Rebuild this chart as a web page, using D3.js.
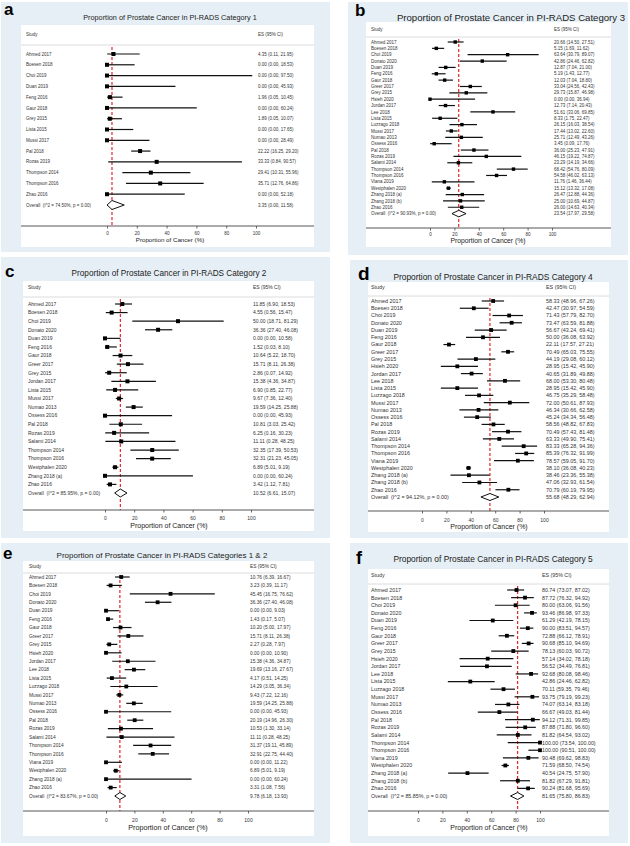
<!DOCTYPE html>
<html><head><meta charset="utf-8">
<script src="https://cdn.jsdelivr.net/npm/d3@7"></script>
<style>
html,body{margin:0;padding:0;background:#fff;}
svg{display:block;}
text{font-family:"Liberation Sans",Arial,sans-serif;white-space:pre;}
</style>
</head><body>
<svg id="chart" width="630" height="846"></svg>
<script>
// ---------- DATA ----------
const xTicks = [0, 20, 40, 60, 80, 100];
const headStudy = "Study";
const headES = "ES (95% CI)";
const xTitle = "Proportion of Cancer (%)";

// Panel a: PI-RADS 1
const titleA = "Proportion of Prostate Cancer in PI-RADS Category 1";
const studiesA = ["Ahmed 2017","Boesen 2018","Choi 2019","Duan 2019","Feng 2016","Gaur 2018","Grey 2015","Lista 2015","Mussi 2017","Pal 2018","Rozas 2019","Thompson 2014","Thompson 2016","Zhao 2016"];
const esA = [4.35,0,0,0,1.96,0,1.89,0,0,22.22,33.33,29.41,35.71,0];
const loA = [0.11,0,0,0,0.05,0,0.05,0,0,16.25,0.84,10.31,12.76,0];
const hiA = [21.95,18.53,97.50,45.93,10.45,60.24,10.07,17.65,28.49,29.20,90.57,55.96,64.86,52.18];
const overallA = [3.35, 0.00, 11.58];
const i2A = "74.50%";

// Panel b: PI-RADS 3
const titleB = "Proportion of Prostate Cancer in PI-RADS Category 3";
const studiesB = ["Ahmed 2017","Boesen 2018","Choi 2019","Donato 2020","Duan 2019","Feng 2016","Gaur 2018","Greer 2017","Grey 2015","Hsieh 2020","Jordan 2017","Lee 2018","Lista 2015","Luzzago 2018","Mussi 2017","Numao 2013","Ossess 2016","Pal 2018","Rozas 2019","Salami 2014","Thompson 2014","Thompson 2016","Viana 2019","Westphalen 2020","Zhang 2018 (a)","Zhang 2018 (b)","Zhao 2016"];
const esB = [20.66,5.15,63.64,42.86,12.87,5.19,12.03,33.04,29.73,0,12.73,51.61,8.33,26.15,17.44,25.71,3.45,36.00,46.15,23.29,68.42,54.58,11.76,15.12,26.47,25.00,26.00];
const loB = [14.50,1.69,30.79,24.46,7.04,1.43,7.04,24.56,15.87,0,7.14,33.06,1.75,16.03,13.02,12.49,0.09,25.23,19.22,14.19,54.76,46.02,1.46,13.32,12.88,10.69,14.63];
const hiB = [27.51,11.62,89.07,62.82,21.00,12.77,18.80,42.43,46.98,36.94,20.43,69.85,22.47,38.54,22.60,43.26,17.76,47.91,74.87,34.66,80.09,63.13,36.44,17.08,44.36,44.87,40.34];
const overallB = [23.54, 17.97, 29.58];
const i2B = "90.93%";

// Panel c: PI-RADS 2
const titleC = "Proportion of Prostate Cancer in PI-RADS Category 2";
const studiesC = ["Ahmed 2017","Boesen 2018","Choi 2019","Donato 2020","Duan 2019","Feng 2016","Gaur 2018","Greer 2017","Grey 2015","Jordan 2017","Lista 2015","Mussi 2017","Numao 2013","Ossess 2016","Pal 2018","Rozas 2019","Salami 2014","Thompson 2014","Thompson 2016","Westphalen 2020","Zhang 2018 (a)","Zhao 2016"];
const esC = [11.85,4.55,50.00,36.36,0,1.52,10.64,15.71,2.86,15.38,6.90,9.67,19.59,0,10.81,6.25,11.11,32.35,32.31,6.89,0,3.42];
const loC = [6.90,0.56,18.71,27.40,0,0.03,5.22,8.11,0.07,4.36,0.85,7.36,14.25,0,3.03,0.16,0.28,17.39,21.23,5.01,0,1.12];
const hiC = [18.53,15.47,81.29,46.08,10.58,8.10,18.70,26.38,14.92,34.87,22.77,12.40,25.88,45.93,25.42,30.23,48.25,50.53,45.05,9.19,60.24,7.81];
const overallC = [10.52, 6.61, 15.07];
const i2C = "85.95%";

// Panel d: PI-RADS 4
const titleD = "Proportion of Prostate Cancer in PI-RADS Category 4";
const studiesD = ["Ahmed 2017","Boesen 2018","Choi 2019","Donato 2020","Duan 2019","Feng 2016","Gaur 2018","Greer 2017","Grey 2015","Hsieh 2020","Jordan 2017","Lee 2018","Lista 2015","Luzzago 2018","Mussi 2017","Numao 2013","Ossess 2016","Pal 2018","Rozas 2019","Salami 2014","Thompson 2014","Thompson 2016","Viana 2019","Westphalen 2020","Zhang 2018 (a)","Zhang 2018 (b)","Zhao 2016"];
const esD = [58.33,42.47,71.43,73.47,56.67,50.00,22.11,70.49,44.19,28.95,40.65,68.00,28.95,46.75,72.00,46.34,45.24,58.56,70.49,63.33,83.33,85.39,78.57,38.10,38.46,47.06,70.79];
const loD = [48.96,30.97,57.79,63.59,43.24,36.08,17.57,65.03,29.08,15.42,31.89,53.30,15.42,35.29,50.61,30.66,34.34,48.82,57.43,49.90,65.28,76.32,59.05,36.08,23.36,32.93,60.19];
const hiD = [67.26,54.59,82.70,81.88,69.41,63.92,27.21,75.55,60.12,45.90,49.88,80.48,45.90,58.48,87.93,62.58,56.48,67.83,81.48,75.41,94.36,91.99,91.70,40.23,55.38,61.54,79.95];
const overallD = [55.68, 48.29, 62.94];
const i2D = "94.12%";

// Panel e: PI-RADS 1 & 2
const titleE = "Proportion of Prostate Cancer in PI-RADS Categories 1 & 2";
const studiesE = ["Ahmed 2017","Boesen 2018","Choi 2019","Donato 2020","Duan 2019","Feng 2016","Gaur 2018","Greer 2017","Grey 2015","Hsieh 2020","Jordan 2017","Lee 2018","Lista 2015","Luzzago 2018","Mussi 2017","Numao 2013","Ossess 2016","Pal 2018","Rozas 2019","Salami 2014","Thompson 2014","Thompson 2016","Viana 2019","Westphalen 2020","Zhang 2018 (a)","Zhao 2016"];
const esE = [10.76,3.23,45.45,36.36,0,1.43,10.20,15.71,2.27,0,15.38,19.69,4.17,14.29,9.43,19.59,0,20.19,10.53,11.11,31.37,32.91,0,6.89,0,3.31];
const loE = [6.39,0.39,16.75,27.40,0,0.17,5.00,8.11,0.28,0,4.36,13.16,0.51,3.05,7.22,14.25,0,14.96,1.30,0.28,19.11,22.75,0,5.01,0,1.08];
const hiE = [16.67,11.17,76.62,46.08,9.03,5.07,17.97,26.38,7.97,10.90,34.87,27.67,14.25,36.34,12.16,25.88,45.93,26.30,33.14,48.25,45.89,44.40,11.22,9.19,60.24,7.56];
const overallE = [9.78, 6.18, 13.93];
const i2E = "83.67%";

// Panel f: PI-RADS 5
const titleF = "Proportion of Prostate Cancer in PI-RADS Category 5";
const studiesF = ["Ahmed 2017","Boesen 2018","Choi 2019","Donato 2020","Duan 2019","Feng 2016","Gaur 2018","Greer 2017","Grey 2015","Hsieh 2020","Jordan 2017","Lee 2018","Lista 2015","Luzzago 2018","Mussi 2017","Numao 2013","Ossess 2016","Pal 2018","Rozas 2019","Salami 2014","Thompson 2014","Thompson 2016","Viana 2019","Westphalen 2020","Zhang 2018 (a)","Zhang 2018 (b)","Zhao 2016"];
const esF = [80.74,87.72,80.00,93.46,61.29,90.00,72.88,90.68,78.13,57.14,56.52,92.68,42.86,70.11,93.75,74.07,66.67,94.12,87.88,81.82,100,100,90.48,71.59,40.54,81.82,90.24];
const loF = [73.07,76.32,63.06,86.98,42.19,83.51,66.12,85.10,60.03,34.02,34.49,80.08,24.46,59.35,79.19,63.14,49.03,71.31,71.80,64.54,73.54,90.51,69.62,68.50,24.75,67.29,81.68];
const hiF = [87.02,94.92,91.56,97.33,78.15,94.57,78.91,94.69,90.72,78.18,76.81,98.46,62.82,79.46,99.23,83.18,81.44,99.85,96.60,93.02,100,100,98.83,74.54,57.90,91.81,95.69];
const overallF = [81.65, 75.80, 86.83];
const i2F = "85.85%";

// ---------- LAYOUT ----------
const layoutA = {letter:"a", letterX:4, letterY:15, letterSize:17, box:[1,2,330,252], white:[21,25,314,247], titleX:170, titleY:20, titleSize:7.3, headY:34, sepY:45, firstY:54, lastY:205, axisY:226, x0:107, x100:256, labelX:26, fs:4.5, tickFs:4.5, tickPad:3, xtitleX:170, xtitleY:241.5, xtitleSize:6.2, marker:4, diamondH:9};
const layoutB = {letter:"b", letterX:355, letterY:16, letterSize:17, box:[348,2,628,255], white:[366,22,611,247], titleX:511, titleY:21, titleSize:9.6, headY:29, sepY:37, firstY:42, lastY:213.6, axisY:228, x0:430, x100:552, labelX:371, fs:4.5, tickFs:4.6, tickPad:2.5, xtitleX:488, xtitleY:242.5, xtitleSize:6.8, marker:3.4, diamondH:6.5};
const layoutC = {letter:"c", letterX:5, letterY:277, letterSize:17, box:[1,257,330,538], white:[23,281,314,531], titleX:169, titleY:276, titleSize:8.2, headY:287, sepY:297, firstY:304, lastY:493, axisY:510, x0:105, x100:251, labelX:28, fs:5, tickFs:5, tickPad:4, xtitleX:169, xtitleY:528, xtitleSize:7, marker:4, diamondH:8};
const layoutD = {letter:"d", letterX:358, letterY:280, letterSize:19, box:[350,260,628,538], white:[368,282,609,532], titleX:493, titleY:280, titleSize:8.4, headY:287, sepY:296, firstY:301, lastY:497, axisY:511, x0:422, x100:544, labelX:371, fs:5.4, tickFs:5, tickPad:4.5, xtitleX:489, xtitleY:529, xtitleSize:7, marker:3.8, diamondH:7};
const layoutE = {letter:"e", letterX:3, letterY:559, letterSize:17, box:[1,543,330,843], white:[23,561,314,836], titleX:162, titleY:558, titleSize:8, headY:566, sepY:573, firstY:577, lastY:796, axisY:811, x0:106, x100:248, labelX:29, fs:4.8, tickFs:5, tickPad:4.5, xtitleX:168, xtitleY:830, xtitleSize:7.2, marker:3.8, diamondH:7};
const layoutF = {letter:"f", letterX:356, letterY:564, letterSize:18, box:[350,543,628,843], white:[368,569,609,836], titleX:493, titleY:562, titleSize:8.4, headY:575, sepY:584, firstY:590, lastY:796, axisY:811, x0:418, x100:540, labelX:371, fs:5.3, tickFs:5, tickPad:4.5, xtitleX:489, xtitleY:830, xtitleSize:7, marker:3.8, diamondH:7};

const panels = [
  {title:titleA, studies:studiesA, es:esA, lo:loA, hi:hiA, overall:overallA, i2:i2A, L:layoutA},
  {title:titleB, studies:studiesB, es:esB, lo:loB, hi:hiB, overall:overallB, i2:i2B, L:layoutB},
  {title:titleC, studies:studiesC, es:esC, lo:loC, hi:hiC, overall:overallC, i2:i2C, L:layoutC},
  {title:titleD, studies:studiesD, es:esD, lo:loD, hi:hiD, overall:overallD, i2:i2D, L:layoutD},
  {title:titleE, studies:studiesE, es:esE, lo:loE, hi:hiE, overall:overallE, i2:i2E, L:layoutE},
  {title:titleF, studies:studiesF, es:esF, lo:loF, hi:hiF, overall:overallF, i2:i2F, L:layoutF}
];

// ---------- DRAW ----------
const svg = d3.select("#chart");
svg.append("rect").attr("width",630).attr("height",846).attr("fill","#fff");
const f2 = d3.format(".2f");
const esText = (e,l,h) => `${f2(e)} (${f2(l)}, ${f2(h)})`;
const BLUE = "#e6eff5", TXT = "#333", RED = "#e3262b";

panels.forEach(p => {
  const L = p.L;
  const g = svg.append("g");
  // backgrounds
  g.append("rect").attr("x",L.box[0]).attr("y",L.box[1]).attr("width",L.box[2]-L.box[0]).attr("height",L.box[3]-L.box[1]).attr("fill",BLUE);
  g.append("rect").attr("x",L.white[0]).attr("y",L.white[1]).attr("width",L.white[2]-L.white[0]).attr("height",L.white[3]-L.white[1]).attr("fill","#fff");
  // letter and title
  g.append("text").attr("x",L.letterX).attr("y",L.letterY).attr("font-size",L.letterSize).attr("font-weight","bold").attr("fill","#000").text(L.letter);
  g.append("text").attr("x",L.titleX).attr("y",L.titleY).attr("text-anchor","middle").attr("font-size",L.titleSize).attr("fill","#222").text(p.title);

  const x = d3.scaleLinear().domain([0,100]).range([L.x0, L.x100]);
  const rows = p.studies.concat(["__overall"]);
  const y = d3.scalePoint().domain(rows).range([L.firstY, L.lastY]);
  const esX = L.x100 + 2;
  const base = L.fs * 0.36;

  // header
  g.append("text").attr("x",L.labelX).attr("y",L.headY+base).attr("font-size",L.fs).attr("fill",TXT).text(headStudy);
  g.append("text").attr("x",esX).attr("y",L.headY+base).attr("font-size",L.fs).attr("fill",TXT).text(headES);
  g.append("line").attr("x1",L.white[0]).attr("x2",L.white[2]).attr("y1",L.sepY).attr("y2",L.sepY).attr("stroke","#dcdcdc").attr("stroke-width",1);

  // red dashed overall line
  g.append("line").attr("x1",x(p.overall[0])).attr("x2",x(p.overall[0])).attr("y1",L.sepY+2).attr("y2",L.axisY)
    .attr("stroke",RED).attr("stroke-width",1.2).attr("stroke-dasharray","3,2");

  const data = p.studies.map((s,i)=>({s, e:p.es[i], l:p.lo[i], h:p.hi[i]}));
  // CI lines
  g.selectAll(null).data(data).enter().append("line")
    .attr("x1",d=>x(d.l)).attr("x2",d=>x(d.h)).attr("y1",d=>y(d.s)).attr("y2",d=>y(d.s))
    .attr("stroke","#111").attr("stroke-width",1.2);
  // markers
  g.selectAll(null).data(data).enter().append("rect")
    .attr("x",d=>x(d.e)-L.marker/2).attr("y",d=>y(d.s)-L.marker/2).attr("width",L.marker).attr("height",L.marker).attr("fill","#000");
  // labels
  g.selectAll(null).data(data).enter().append("text")
    .attr("x",L.labelX).attr("y",d=>y(d.s)+base).attr("font-size",L.fs).attr("fill",TXT).text(d=>d.s);
  g.selectAll(null).data(data).enter().append("text")
    .attr("x",esX).attr("y",d=>y(d.s)+base).attr("font-size",L.fs).attr("fill",TXT).text(d=>esText(d.e,d.l,d.h));

  // overall diamond
  const oy = y("__overall"), hh = L.diamondH/2;
  const [oe, ol, oh] = p.overall;
  g.append("path").attr("d",`M${x(ol)},${oy} L${x(oe)},${oy-hh} L${x(oh)},${oy} L${x(oe)},${oy+hh} Z`)
    .attr("fill","#fff").attr("stroke","#111").attr("stroke-width",1);
  g.append("text").attr("x",L.labelX).attr("y",oy+base).attr("font-size",L.fs).attr("fill",TXT)
    .text(`Overall  (I^2 = ${p.i2}, p = 0.00)`);
  g.append("text").attr("x",esX).attr("y",oy+base).attr("font-size",L.fs).attr("fill",TXT).text(esText(oe,ol,oh));

  // axis
  g.append("line").attr("x1",L.white[0]).attr("x2",L.white[2]).attr("y1",L.axisY).attr("y2",L.axisY).attr("stroke","#444").attr("stroke-width",0.9);
  const ax = g.append("g").attr("transform",`translate(0,${L.axisY})`)
    .call(d3.axisBottom(x).tickValues(xTicks).tickSize(2.5).tickPadding(L.tickPad).tickFormat(d3.format("d")));
  ax.select(".domain").remove();
  ax.selectAll(".tick line").attr("stroke","#444").attr("stroke-width",0.8);
  ax.selectAll(".tick text").attr("font-size",L.tickFs).attr("fill",TXT).attr("font-family","Liberation Sans, Arial, sans-serif");
  g.append("text").attr("x",L.xtitleX).attr("y",L.xtitleY).attr("text-anchor","middle").attr("font-size",L.xtitleSize).attr("fill","#222").text(xTitle);
});
</script>
</body></html>
